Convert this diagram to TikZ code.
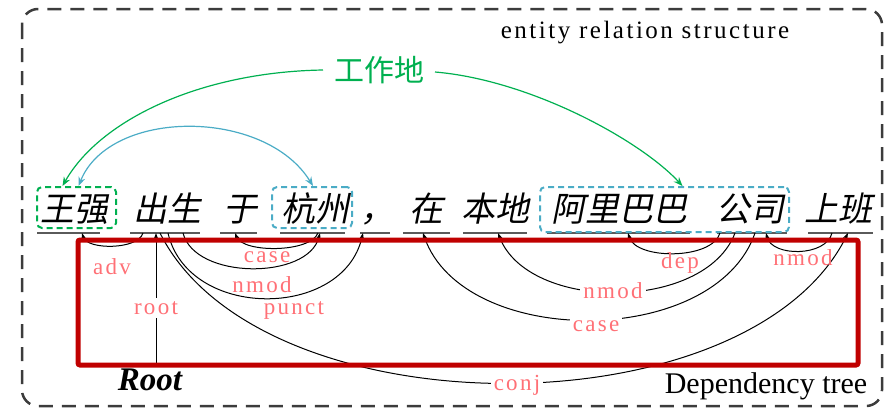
\documentclass[tikz,border=0pt]{standalone}
\usepackage{fontspec}
\setmainfont{Liberation Serif}
\newfontfamily\cjk{Noto Sans CJK SC}
\newfontfamily\cjkit{Noto Sans CJK SC}[FakeSlant=0.2]
\newfontfamily\lblfont{Liberation Serif}[LetterSpace=10]
\usetikzlibrary{arrows.meta}
\definecolor{egreen}{RGB}{0,176,80}
\definecolor{eblue}{RGB}{75,172,198}
\definecolor{lblpink}{RGB}{255,112,118}
\definecolor{boxred}{RGB}{192,0,0}
\definecolor{framegray}{RGB}{60,60,60}
\definecolor{ulgray}{RGB}{90,90,90}
\begin{document}
\begin{tikzpicture}[x=1pt,y=-1pt,
  word/.style={inner sep=0pt,anchor=base,font=\cjkit\fontsize{34}{34}\selectfont},
  uline/.style={ulgray,line width=2pt},
  deparc/.style={black,line width=1pt,-{Stealth[length=7pt,width=5pt]}},
  lbl/.style={lblpink,inner sep=1pt,font=\lblfont\fontsize{23}{23}\selectfont},
  lblcut/.style={lbl,fill=white,inner sep=3pt},
  gbox/.style={draw=egreen,line width=2pt,dash pattern=on 6pt off 4pt,rounded corners=5pt},
  bbox/.style={draw=eblue,line width=2pt,dash pattern=on 6pt off 4pt,rounded corners=5pt},
  garrow/.style={egreen,line width=1.2pt,-{Stealth[length=9pt,width=7pt]}},
  barrow/.style={eblue,line width=1.2pt,{Stealth[length=9pt,width=7pt]}-{Stealth[length=9pt,width=7pt]}}
]
\useasboundingbox (0,0) rectangle (885,410);
% outer frame
\draw[framegray,line width=2.5pt,dash pattern=on 14pt off 9pt,rounded corners=16pt] (22,9) rectangle (882,406);
\node[font=\lblfont\fontsize{25}{25}\selectfont,anchor=base] (ers) at (645,38) {entity relation structure};
\node[font=\fontsize{30}{30}\selectfont,anchor=base] (dt) at (766,393) {Dependency tree};
\node[font=\bfseries\itshape\fontsize{33}{33}\selectfont,anchor=base] (root) at (150,390) {Root};

% words
\node[word] (w1) at (74,221) {王强};
\node[word] (w2) at (167,221) {出生};
\node[word] (w3) at (240,221) {于};
\node[word] (w4) at (315,221) {杭州};
\node[word] (w5) at (377,221) {，};
\node[word] (w6) at (426,221) {在};
\node[word] (w7) at (495,221) {本地};
\node[word] (w8) at (619,221) {阿里巴巴};
\node[word] (w9) at (750,221) {公司};
\node[word] (w10) at (838,221) {上班};

% underlines
\draw[uline] (37,233) -- (100,233);
\draw[uline] (130,233) -- (200,233);
\draw[uline] (220,233) -- (257,233);
\draw[uline] (280,233) -- (345,233);
\draw[uline] (360,233) -- (390,233);
\draw[uline] (403,233) -- (450,233);
\draw[uline] (463,233) -- (527,233);
\draw[uline] (547,233) -- (690,233);
\draw[uline] (717,233) -- (787,233);
\draw[uline] (808,233) -- (873,233);

% entity boxes
\node[gbox,minimum width=79pt,minimum height=41pt] (e1) at (76.5,207.5) {};
\node[bbox,minimum width=80pt,minimum height=41pt] (e2) at (312,207.5) {};
\node[bbox,minimum width=249pt,minimum height=45pt] (e3) at (664.5,209.5) {};

% relation label and arcs
\node[egreen,font=\cjk\fontsize{30}{30}\selectfont,inner sep=0pt] (rel) at (379,70) {工作地};
\coordinate (relL) at (323,70);
\coordinate (relR) at (435,72);
\draw[garrow] (relL) .. controls (200,72) and (100,120) .. ([xshift=-14pt]e1.north);
\draw[garrow] (relR) .. controls (530,80) and (640,140) .. ([xshift=18pt]e3.north);
\draw[barrow] ([xshift=2pt]e1.north) .. controls (110,108) and (265,108) .. ([xshift=1pt]e2.north);

% arc endpoints
\coordinate (a2adv) at (143,233);  \coordinate (a1adv) at (82,233);
\coordinate (a4case) at (318,233); \coordinate (a3case) at (235,233);
\coordinate (a2nmod) at (183,233); \coordinate (a4nmod) at (320,233);
\coordinate (a2punct) at (168,233);\coordinate (a5punct) at (363,233);
\coordinate (a2conj) at (160,233); \coordinate (a10conj) at (848,233);
\coordinate (a9dep) at (720,233);  \coordinate (a8dep) at (628,233);
\coordinate (a10nmod) at (832,233);\coordinate (a9nmod) at (766,233);
\coordinate (a9nmodb) at (735,233);\coordinate (a7nmod) at (498,233);
\coordinate (a9case) at (755,233); \coordinate (a6case) at (423,233);
\coordinate (a2root) at (156,233);

% dependency arcs
\draw[deparc] (a2adv) .. controls +(-5,17) and +(5,17) .. (a1adv);
\draw[deparc] (a4case) .. controls +(-8,20) and +(8,20) .. (a3case);
\draw[deparc] (a2nmod) .. controls +(12,47) and +(-12,47) .. (a4nmod);
\draw[deparc] (a2punct) .. controls +(20,87) and +(-20,87) .. (a5punct);
\draw[deparc] (a2conj) .. controls +(100,200) and +(-100,200) .. (a10conj);
\draw[deparc] (a9dep) .. controls +(-8,27) and +(8,27) .. (a8dep);
\draw[deparc] (a10nmod) .. controls +(-6,24) and +(6,24) .. (a9nmod);
\draw[deparc] (a9nmodb) .. controls +(-30,79) and +(30,79) .. (a7nmod);
\draw[deparc] (a9case) .. controls +(-40,116) and +(40,116) .. (a6case);
\draw[deparc] (root.north -| a2root) -- (a2root);

% labels
\node[lbl] (ladv) at (112,267) {adv};
\node[lblcut] (lroot) at (156,308) {root};
\node[lbl] (lcase1) at (267,257) {case};
\node[lbl] (lnmod1) at (262,285) {nmod};
\node[lbl] (lpunct) at (294,310) {punct};
\node[lbl] (ldep) at (680,263) {dep};
\node[lbl] (lnmod3) at (803,258) {nmod};
\node[lblcut] (lnmod2) at (613,291) {nmod};
\node[lblcut] (lcase2) at (596,326) {case};
\node[lblcut] (lconj) at (517,385) {conj};

% red highlight box
\draw[boxred,line width=5pt,rounded corners=2pt] (78,240) rectangle (858,365);
\end{tikzpicture}
\end{document}
